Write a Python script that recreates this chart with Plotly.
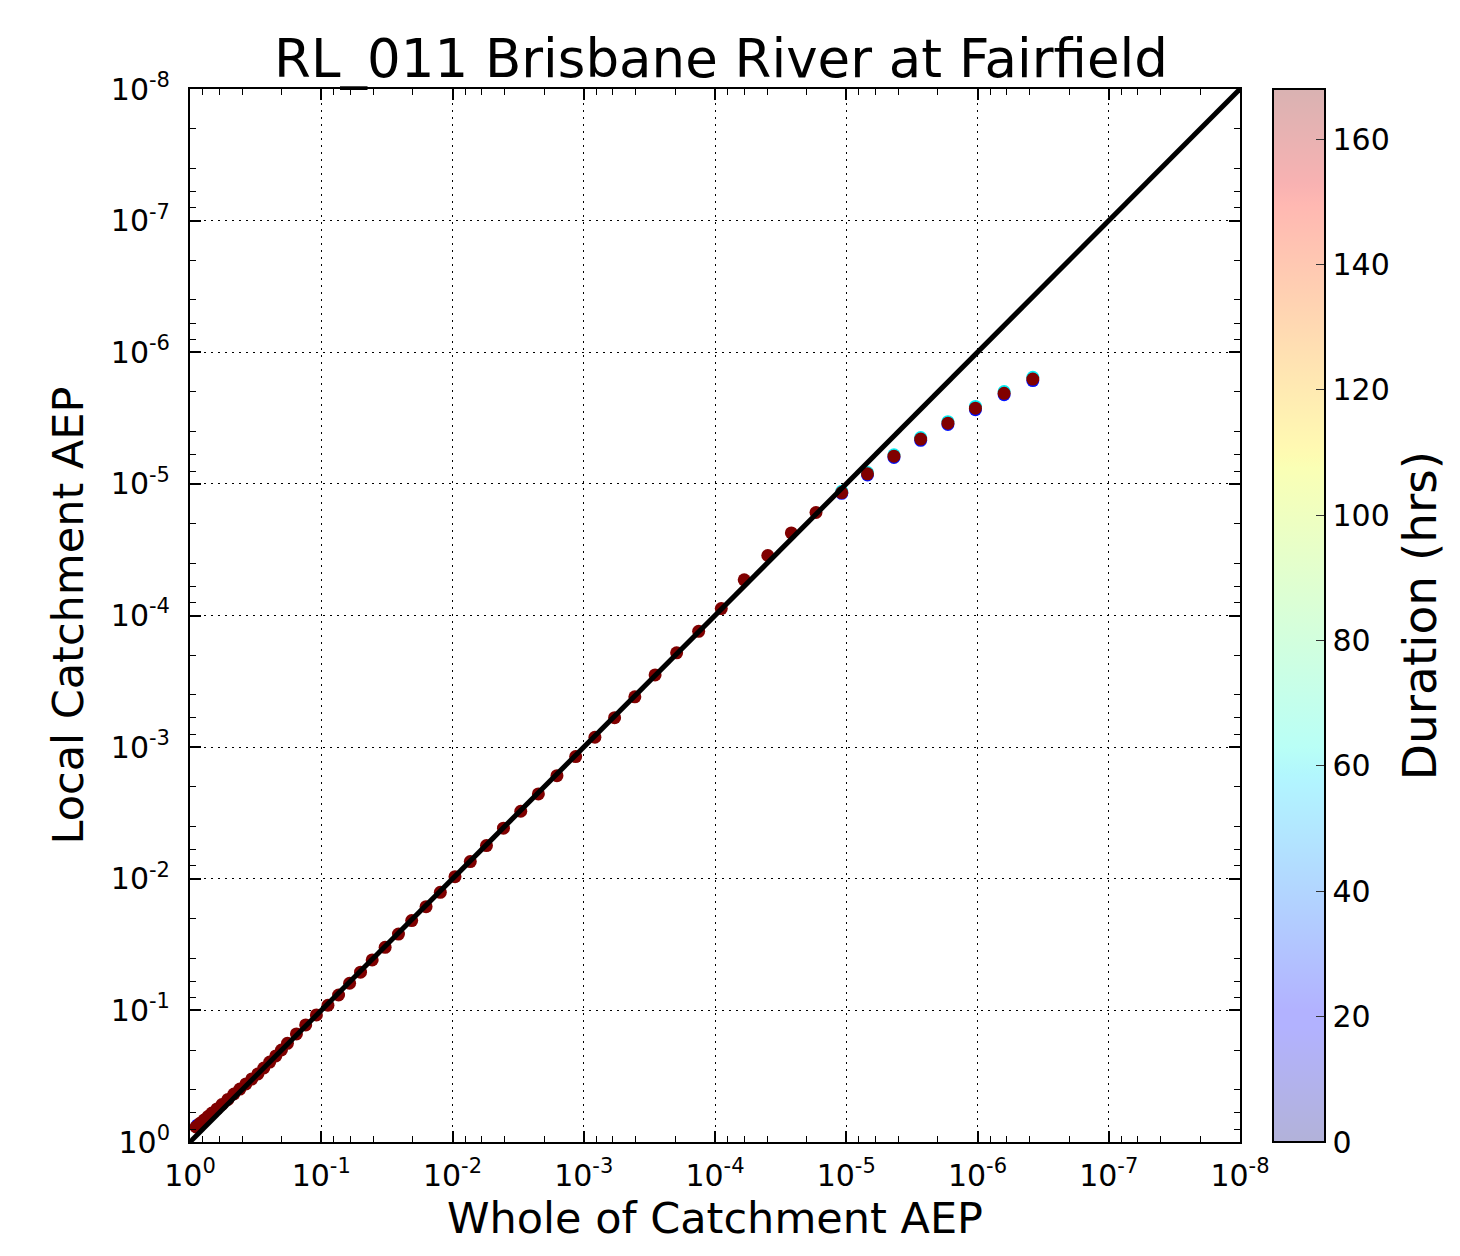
import plotly.graph_objects as go

# ---------------- data ----------------
whole_aep = [0.900, 0.839, 0.783, 0.730, 0.681, 0.623, 0.571, 0.514, 0.463, 0.417,
             0.375, 0.338, 0.304, 0.274, 0.247, 0.222, 0.201, 0.181, 0.1546, 0.1314,
             0.1089, 0.0889, 0.0738, 0.0608, 0.0502, 0.0409, 0.0326, 0.0258, 0.02046, 0.0159,
             0.01238, 0.00957, 0.00732, 0.00551, 0.00409, 0.00302, 0.002216, 0.0016, 0.001152, 0.000822,
             0.000582, 0.000408, 0.000286, 0.000196, 0.0001332, 8.96e-5, 5.99e-5, 3.96e-5, 2.62e-5, 1.70e-5,
             1.082e-5, 6.89e-6, 4.33e-6, 2.71e-6, 1.68e-6, 1.037e-6, 6.27e-7, 3.79e-7]
local_aep_168h = [0.769, 0.721, 0.681, 0.640, 0.602, 0.561, 0.519, 0.475, 0.432, 0.396,
                  0.362, 0.332, 0.304, 0.274, 0.247, 0.222, 0.200, 0.178, 0.151, 0.129,
                  0.1083, 0.0914, 0.0764, 0.0622, 0.0513, 0.0414, 0.0332, 0.0263, 0.0208, 0.0163,
                  0.01267, 0.00964, 0.00741, 0.0056, 0.00413, 0.00307, 0.002267, 0.001647, 0.00118, 0.000841,
                  0.000597, 0.000415, 0.000283, 0.000192, 0.000132, 8.86e-5, 5.36e-5, 3.50e-5, 2.36e-5, 1.65e-5,
                  1.164e-5, 8.39e-6, 6.16e-6, 4.57e-6, 3.46e-6, 2.66e-6, 2.05e-6, 1.60e-6]
# shorter durations, visible only as thin halos at the rarest events
whole_aep_short = [1.082e-5, 6.89e-6, 4.33e-6, 2.71e-6, 1.68e-6, 1.037e-6, 6.27e-7, 3.79e-7]
local_aep_24h = [1.18e-5, 8.55e-6, 6.3e-6, 4.67e-6, 3.54e-6, 2.73e-6, 2.10e-6, 1.64e-6]
local_aep_60h = [1.14e-5, 8.2e-6, 6.02e-6, 4.45e-6, 3.37e-6, 2.58e-6, 1.99e-6, 1.55e-6]
whole_aep_bottom_short = [0.880]
local_aep_bottom_short = [0.745]

duration_max = 168
cbar_ticks = [0, 20, 40, 60, 80, 100, 120, 140, 160]
tick_vals = [1, 1e-1, 1e-2, 1e-3, 1e-4, 1e-5, 1e-6, 1e-7, 1e-8]
tick_text = ["10<sup>0</sup>", "10<sup>-1</sup>", "10<sup>-2</sup>", "10<sup>-3</sup>",
             "10<sup>-4</sup>", "10<sup>-5</sup>", "10<sup>-6</sup>", "10<sup>-7</sup>", "10<sup>-8</sup>"]
minor_vals = [k * 10.0 ** (-d) for d in range(1, 9) for k in (2, 4, 6, 8)]

# ---------------- matplotlib jet colormap ----------------
_seg = {
    "r": [(0, 0), (0.35, 0), (0.66, 1), (0.89, 1), (1, 0.5)],
    "g": [(0, 0), (0.125, 0), (0.375, 1), (0.64, 1), (0.91, 0), (1, 0)],
    "b": [(0, 0.5), (0.11, 1), (0.34, 1), (0.65, 0), (1, 0)],
}


def _interp(pts, t):
    for (x0, y0), (x1, y1) in zip(pts[:-1], pts[1:]):
        if x0 <= t <= x1:
            return y0 + (y1 - y0) * (t - x0) / (x1 - x0) if x1 > x0 else y1
    return pts[-1][1]


def jet(t, alpha=1.0):
    r, g, b = (_interp(_seg[c], t) for c in "rgb")
    r, g, b = (255 * (v * alpha + (1 - alpha)) for v in (r, g, b))
    return "rgb(%d,%d,%d)" % (round(r), round(g), round(b))


_bps = sorted({p[0] for c in _seg.values() for p in c} | {0.5, 0.75, 0.25})
jet_scale = [[t, jet(t)] for t in _bps]
jet_pale = [[t, jet(t, 0.3)] for t in _bps]

FONT = "DejaVu Sans"

# page body has an ~8px offset; figure is sized so the plot box lands where the reference has it
W, H = 1452, 1248
OFF = 8
L, T = 190 - OFF, 89 - OFF
R = W - (1243 - OFF)
B = H - (1142 - OFF)
PW = 1243 - 190

fig = go.Figure()


def add_points(xs, ys, dur, size=13):
    fig.add_trace(go.Scatter(
        x=xs, y=ys, mode="markers",
        marker=dict(size=size, color=[dur] * len(xs), colorscale=jet_scale,
                    cmin=0, cmax=duration_max, line=dict(width=0)),
        showlegend=False, hoverinfo="x+y",
    ))


add_points(whole_aep_bottom_short, local_aep_bottom_short, 24)
add_points(whole_aep_short, local_aep_24h, 24)
add_points(whole_aep_short, local_aep_60h, 60)
add_points(whole_aep, local_aep_168h, 168)

# colorbar carrier
fig.add_trace(go.Scatter(
    x=[1], y=[1], mode="markers",
    marker=dict(size=0, color=[0], colorscale=jet_pale, cmin=0, cmax=duration_max,
                showscale=True,
                colorbar=dict(
                    x=(1276 - 190) / PW, xanchor="left", xpad=0,
                    y=0.5, yanchor="middle", len=1, lenmode="fraction", ypad=0,
                    thickness=52, thicknessmode="pixels",
                    outlinecolor="black", outlinewidth=2,
                    tickvals=cbar_ticks, ticks="inside", ticklen=10, tickcolor="#333",
                    tickprefix="\u2009",
                    tickfont=dict(size=30, family=FONT, color="black"),
                    title=dict(text="Duration (hrs)", side="right",
                               font=dict(size=47, family=FONT, color="black")),
                )),
    showlegend=False, hoverinfo="skip",
))

# 1:1 line
fig.add_trace(go.Scatter(x=[1, 1e-8], y=[1, 1e-8], mode="lines",
                         line=dict(color="black", width=5), showlegend=False, hoverinfo="skip"))

axis_common = dict(
    type="log", range=[0, -8],
    tickmode="array", tickvals=tick_vals, ticktext=tick_text,
    ticks="inside", ticklen=11, tickwidth=1.5, tickcolor="black",
    showline=True, linewidth=2, linecolor="black", mirror="ticks",
    showgrid=True, gridcolor="black", griddash="2px,5px", gridwidth=1,
    zeroline=False,
    tickfont=dict(size=30, family=FONT, color="black"),
    minor=dict(tickmode="array", tickvals=minor_vals, ticks="inside", ticklen=6,
               tickwidth=1, tickcolor="black", showgrid=False),
)

fig.update_layout(
    width=W, height=H,
    margin=dict(l=L, r=R, t=T, b=B),
    paper_bgcolor="white", plot_bgcolor="white",
    font=dict(family=FONT, color="black"),
    title=dict(text="RL_011 Brisbane River at Fairfield", x=(721 - OFF) / W, xanchor="center",
               y=1 - (58 - OFF) / H, yanchor="middle", yref="container",
               font=dict(size=53, family=FONT, color="black")),
    xaxis=dict(**axis_common, ticklabelstandoff=6,
               title=dict(text="Whole of Catchment AEP", standoff=10,
                          font=dict(size=43, family=FONT, color="black"))),
    yaxis=dict(**axis_common, ticklabelstandoff=12,
               title=dict(text="Local Catchment AEP", standoff=14,
                          font=dict(size=43, family=FONT, color="black"))),
    showlegend=False,
)

fig.write_html("out.html")
